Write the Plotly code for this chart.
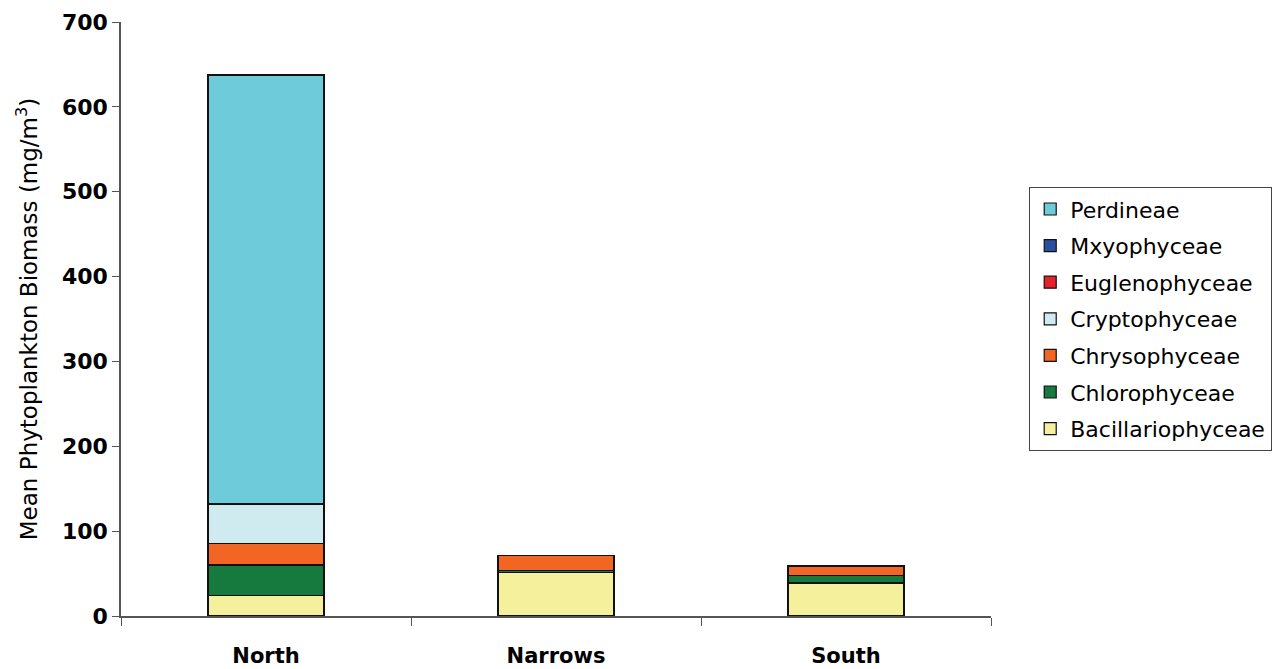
import plotly.graph_objects as go

sites = ["North", "Narrows", "South"]
series_names = ["Bacillariophyceae", "Chlorophyceae", "Chrysophyceae", "Cryptophyceae",
                "Euglenophyceae", "Mxyophyceae", "Perdineae"]
bacillariophyceae = [24, 51, 39]
chlorophyceae = [36, 3, 9]
chrysophyceae = [25, 17, 10]
cryptophyceae = [46, 0.5, 1]
euglenophyceae = [1, 0, 0.5]
mxyophyceae = [0.5, 0, 0.3]
perdineae = [505, 0, 0]
values = [bacillariophyceae, chlorophyceae, chrysophyceae, cryptophyceae,
          euglenophyceae, mxyophyceae, perdineae]
colors = ["#F4F09C", "#167A3E", "#F26522", "#D0EBF0", "#E8202A", "#2B4FA0", "#6ECBD9"]
y_ticks = [0, 100, 200, 300, 400, 500, 600, 700]

fig = go.Figure()
n = len(series_names)
for i, (name, vals, col) in enumerate(zip(series_names, values, colors)):
    fig.add_trace(go.Bar(
        x=sites, y=vals, name=name, legendgroup=name, legendrank=n - i,
        marker=dict(color=col, line=dict(color="#111111", width=1.2)),
        width=0.4,
    ))

axis_col = "#555555"
fig.update_layout(
    width=1280, height=669,
    barmode="stack",
    plot_bgcolor="white", paper_bgcolor="white",
    margin=dict(l=113, r=297, t=14, b=61, autoexpand=False),
    font=dict(family="DejaVu Sans, Arial, sans-serif", color="black"),
    xaxis=dict(
        showline=True, linecolor=axis_col, linewidth=1.5,
        ticks="outside", tickson="boundaries", ticklen=8, tickcolor=axis_col,
        tickfont=dict(size=21, family="DejaVu Sans", weight="bold"),
        ticklabelstandoff=20,
        showgrid=False, automargin=False,
    ),
    yaxis=dict(
        range=[0, 700], tickvals=y_ticks,
        showline=True, linecolor=axis_col, linewidth=1.5,
        ticks="outside", ticklen=7, tickcolor=axis_col,
        tickfont=dict(size=22, family="DejaVu Sans", weight="bold"),
        showgrid=False, zeroline=False, automargin=False,
        title=dict(text="Mean Phytoplankton Biomass (mg/m<sup>3</sup>)",
                   font=dict(size=23, family="DejaVu Sans"), standoff=18),
    ),
    legend=dict(
        x=1.0437, y=0.7222, xanchor="left", yanchor="top",
        traceorder="grouped", tracegroupgap=5,
        bordercolor="#444444", borderwidth=1.2,
        font=dict(size=22, family="DejaVu Sans"),
        itemwidth=30,
    ),
)

fig.write_html("out.html")
